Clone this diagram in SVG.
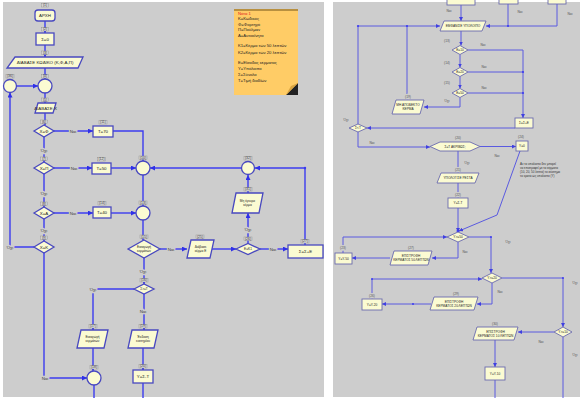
<svg xmlns="http://www.w3.org/2000/svg" width="582" height="398" viewBox="0 0 582 398">
<defs>
<style>
.ln{fill:none;stroke:#3c3cf0;stroke-width:1.4}
.ln2{fill:none;stroke:#5a5ae0;stroke-width:1}
.nd{fill:#fbfbd2;stroke:#4848c0;stroke-width:1.3}
.nd2{fill:#fbfbd2;stroke:#6a6ab0;stroke-width:0.9}
.t{font-family:"Liberation Sans",Arial,sans-serif;font-size:4.4px;fill:#222;text-anchor:middle}
.t2{font-family:"Liberation Sans",Arial,sans-serif;font-size:3.2px;fill:#222;text-anchor:middle}
.lb{font-family:"Liberation Sans",Arial,sans-serif;font-size:4.4px;fill:#444;text-anchor:middle;stroke:#cdcdcd;stroke-width:2.5;paint-order:stroke}
.lb2{font-family:"Liberation Sans",Arial,sans-serif;font-size:3.3px;fill:#555;text-anchor:middle;stroke:#cdcdcd;stroke-width:2;paint-order:stroke}
.tg{font-family:"Liberation Sans",Arial,sans-serif;font-size:3.4px;fill:#333;text-anchor:middle}
.tgb{fill:#d9d9d9;stroke:#8a8a8a;stroke-width:0.4}
.nt{font-family:"Liberation Sans",Arial,sans-serif;font-size:4.2px;fill:#222}
.nt2{font-family:"Liberation Sans",Arial,sans-serif;font-size:3px;fill:#333}
.dot{fill:#3c3cf0}
</style>
<marker id="ah" viewBox="0 0 10 10" refX="10" refY="5" markerWidth="5" markerHeight="5" orient="auto" markerUnits="userSpaceOnUse"><path d="M0,0 L10,5 L0,10 z" fill="#3030e8"/></marker>
<marker id="ah2" viewBox="0 0 10 10" refX="10" refY="5" markerWidth="4" markerHeight="4" orient="auto" markerUnits="userSpaceOnUse"><path d="M0,0 L10,5 L0,10 z" fill="#4040e0"/></marker>
</defs>
<rect x="0" y="0" width="582" height="398" fill="#ffffff"/>
<rect x="3" y="2" width="321" height="395" fill="#cdcdcd"/>
<rect x="333" y="2" width="247" height="395" fill="#cdcdcd"/>

<!-- connectors -->
<g id="connectors">
<path class="ln" d="M45,21 V33" marker-end="url(#ah)"/>
<path class="ln" d="M45,45 V57" marker-end="url(#ah)"/>
<path class="ln" d="M45,68 V79" marker-end="url(#ah)"/>
<path class="ln" d="M16.5,86 H38" marker-end="url(#ah)"/>
<path class="ln" d="M45,93 V103" marker-end="url(#ah)"/>
<path class="ln" d="M45,113 V125" marker-end="url(#ah)"/>
<path class="ln" d="M44,137 V162" marker-end="url(#ah)"/>
<path class="ln" d="M54,131 H93" marker-end="url(#ah)"/>
<path class="ln" d="M113,131 H143 V161" marker-end="url(#ah)"/>
<path class="ln" d="M44,174 V207" marker-end="url(#ah)"/>
<path class="ln" d="M54,168 H92" marker-end="url(#ah)"/>
<path class="ln" d="M111,168 H136" marker-end="url(#ah)"/>
<path class="ln" d="M44,219 V241" marker-end="url(#ah)"/>
<path class="ln" d="M54,213 H93" marker-end="url(#ah)"/>
<path class="ln" d="M111,213 H136" marker-end="url(#ah)"/>
<path class="ln" d="M143,175 V206" marker-end="url(#ah)"/>
<path class="ln" d="M143,220 V240" marker-end="url(#ah)"/>
<path class="ln" d="M34,247 H10 V92.5" marker-end="url(#ah)"/>
<path class="ln" d="M44,253 V378 H87" marker-end="url(#ah)"/>
<path class="ln" d="M160,249 H187" marker-end="url(#ah)"/>
<path class="ln" d="M212,249 H236" marker-end="url(#ah)"/>
<path class="ln" d="M248,243.5 V213" marker-end="url(#ah)"/>
<path class="ln" d="M248,193 V175" marker-end="url(#ah)"/>
<path class="ln" d="M260,249 H288" marker-end="url(#ah)"/>
<path class="ln" d="M305,245 V168 H255" marker-end="url(#ah)"/>
<path class="ln" d="M241,168 H150" marker-end="url(#ah)"/>
<path class="ln" d="M144,258 V284" marker-end="url(#ah)"/>
<path class="ln" d="M134,289 H93 V330" marker-end="url(#ah)"/>
<path class="ln" d="M144,294 V330" marker-end="url(#ah)"/>
<path class="ln" d="M93,348 V371" marker-end="url(#ah)"/>
<path class="ln" d="M143,348 V370" marker-end="url(#ah)"/>
<path class="ln" d="M94,385 V398"/>
<path class="ln" d="M143,383 V398"/>
<circle class="dot" cx="305" cy="168" r="1.2"/>

<path class="ln2" d="M461,5 V21" marker-end="url(#ah2)"/>
<path class="ln2" d="M508,4 V26"/>
<path class="ln2" d="M557,4 V26 H486" marker-end="url(#ah2)"/>
<path class="ln2" d="M358,124 V26 H440" marker-end="url(#ah2)"/>
<path class="ln2" d="M407,100 V26"/>
<path class="ln2" d="M461,31 V45.5" marker-end="url(#ah2)"/>
<path class="ln2" d="M460,54.5 V67.5" marker-end="url(#ah2)"/>
<path class="ln2" d="M460,76.5 V88.5" marker-end="url(#ah2)"/>
<path class="ln2" d="M468,50 H523 V118" marker-end="url(#ah2)"/>
<path class="ln2" d="M468,72 H523"/>
<path class="ln2" d="M468,93 H523"/>
<path class="ln2" d="M460,97.5 V107 H424" marker-end="url(#ah2)"/>
<path class="ln2" d="M515,128 H367" marker-end="url(#ah2)"/>
<path class="ln2" d="M358,132 V147 H430" marker-end="url(#ah2)"/>
<path class="ln2" d="M480,146.5 H516" marker-end="url(#ah2)"/>
<path class="ln2" d="M520,151 L497,215 L459,231" marker-end="url(#ah2)"/>
<path class="ln2" d="M458,151 V173" marker-end="url(#ah2)"/>
<path class="ln2" d="M458,183 V198" marker-end="url(#ah2)"/>
<path class="ln2" d="M458,208 V232" marker-end="url(#ah2)"/>
<path class="ln2" d="M343,253 V237 H447" marker-end="url(#ah2)"/>
<path class="ln2" d="M469,237 H491 V273" marker-end="url(#ah2)"/>
<path class="ln2" d="M458,242 V258 H432" marker-end="url(#ah2)"/>
<path class="ln2" d="M390,258 H352" marker-end="url(#ah2)"/>
<path class="ln2" d="M372,299 V279 H482" marker-end="url(#ah2)"/>
<path class="ln2" d="M502,278 H563 V327" marker-end="url(#ah2)"/>
<path class="ln2" d="M492,283 V304 H477" marker-end="url(#ah2)"/>
<path class="ln2" d="M431,304 H382" marker-end="url(#ah2)"/>
<path class="ln2" d="M554,332 H518" marker-end="url(#ah2)"/>
<path class="ln2" d="M495,340 V367" marker-end="url(#ah2)"/>
<path class="ln2" d="M495,380 V398"/>
<path class="ln2" d="M563,337 V398"/>
<circle class="dot" cx="407" cy="26" r="1.1"/>
<circle class="dot" cx="508" cy="26" r="1.1"/>
<circle class="dot" cx="358" cy="26" r="1.1"/>
<circle class="dot" cx="523" cy="72" r="1.1"/>
<circle class="dot" cx="523" cy="93" r="1.1"/>
<circle class="dot" cx="458" cy="231" r="1.5"/>
<circle class="dot" cx="413" cy="304" r="1"/>
<circle class="dot" cx="372" cy="279" r="1"/>
<circle class="dot" cx="563" cy="278" r="1"/>
<circle class="dot" cx="491" cy="237" r="1"/>
</g>

<!-- connector labels -->
<g id="labels">
<text class="lb" x="44" y="152">Όχι</text>
<text class="lb" x="73" y="132.5">Ναι</text>
<text class="lb" x="44" y="195">Όχι</text>
<text class="lb" x="74" y="169.5">Ναι</text>
<text class="lb" x="44" y="232">Όχι</text>
<text class="lb" x="73" y="214.5">Ναι</text>
<text class="lb" x="10" y="248.5">Όχι</text>
<text class="lb" x="45" y="379.5">Ναι</text>
<text class="lb" x="171" y="250.5">Ναι</text>
<text class="lb" x="248" y="231">Όχι</text>
<text class="lb" x="273" y="250.5">Ναι</text>
<text class="lb" x="143" y="273">Όχι</text>
<text class="lb" x="93" y="290.5">Όχι</text>
<text class="lb" x="143" y="313">Ναι</text>

<text class="lb2" x="449" y="12">Ναι</text>
<text class="lb2" x="520" y="13">Ναι</text>
<text class="lb2" x="570" y="15">Ναι</text>
<text class="lb2" x="483" y="46">Ναι</text>
<text class="lb2" x="484" y="68">Ναι</text>
<text class="lb2" x="484" y="89">Ναι</text>
<text class="lb2" x="447" y="102">Όχι</text>
<text class="lb2" x="346" y="121">Όχι</text>
<text class="lb2" x="372" y="144">Ναι</text>
<text class="lb2" x="497" y="157">Ναι</text>
<text class="lb2" x="467" y="164">Όχι</text>
<text class="lb2" x="508" y="243">Όχι</text>
<text class="lb2" x="465" y="253">Ναι</text>
<text class="lb2" x="500" y="293">Ναι</text>
<text class="lb2" x="575" y="284">Όχι</text>
<text class="lb2" x="541" y="343">Ναι</text>
<text class="lb2" x="575" y="356">Όχι</text>
</g>

<!-- left panel nodes -->
<g id="n1"><rect class="tgb" x="41.5" y="3.5" width="7" height="3.5"/><text class="tg" x="45" y="6.3">(1)</text><rect class="nd" x="35" y="10" width="20" height="11" rx="3"/><text class="t" x="45" y="17.2">ΑΡΧΗ</text></g>
<g id="n2"><rect class="tgb" x="41.5" y="27.5" width="7" height="3.5"/><text class="tg" x="45" y="30.3">(2)</text><rect class="nd" x="36" y="33" width="18" height="12"/><text class="t" x="45" y="40.5">Σ=0</text></g>
<g id="n3"><rect class="tgb" x="41.5" y="51" width="7" height="3.5"/><text class="tg" x="45" y="53.8">(3)</text><polygon class="nd" points="15,57 83,57 78,68 7,68"/><text class="t" x="45" y="64.2">ΔΙΑΒΑΣΕ ΚΩΔΙΚΟ (Κ,Φ,Α,Π)</text></g>
<g id="n36"><rect class="tgb" x="6" y="74.5" width="8" height="3.5"/><text class="tg" x="10" y="77.3">(36)</text><circle class="nd" cx="10" cy="86" r="6.5"/></g>
<g id="n4"><rect class="tgb" x="41.5" y="74.5" width="7" height="3.5"/><text class="tg" x="45" y="77.3">(4)</text><circle class="nd" cx="45" cy="86" r="7"/></g>
<g id="n5"><rect class="tgb" x="41.5" y="98" width="7" height="3.5"/><text class="tg" x="45" y="100.8">(5)</text><polygon class="nd" points="38,103 56,103 53,113 35,113"/><text class="t" x="45.5" y="109.6">ΔΙΑΒΑΣΕ Χ</text></g>
<g id="n6"><rect class="tgb" x="40.5" y="120" width="7" height="3.5"/><text class="tg" x="44" y="122.8">(6)</text><polygon class="nd" points="34,131 44,125 54,131 44,137"/><text class="t" x="44" y="132.6">Χ=Φ</text></g>
<g id="n11"><rect class="tgb" x="99" y="120.5" width="8" height="3.5"/><text class="tg" x="103" y="123.3">(11)</text><rect class="nd" x="93" y="126" width="20" height="11"/><text class="t" x="103" y="133">Τ=70</text></g>
<g id="n7"><rect class="tgb" x="40.5" y="157" width="7" height="3.5"/><text class="tg" x="44" y="159.8">(7)</text><polygon class="nd" points="34,168 44,162 54,168 44,174"/><text class="t" x="44" y="169.6">Χ=Π</text></g>
<g id="n12"><rect class="tgb" x="97.5" y="157.5" width="8" height="3.5"/><text class="tg" x="101.5" y="160.3">(12)</text><rect class="nd" x="92" y="163" width="19" height="11"/><text class="t" x="101.5" y="170">Τ=50</text></g>
<g id="n10"><rect class="tgb" x="139" y="156" width="8" height="3.5"/><text class="tg" x="143" y="158.8">(10)</text><circle class="nd" cx="143" cy="168" r="7"/></g>
<g id="n8"><rect class="tgb" x="40.5" y="202" width="7" height="3.5"/><text class="tg" x="44" y="204.8">(8)</text><polygon class="nd" points="34,213 44,207 54,213 44,219"/><text class="t" x="44" y="214.6">Χ=Α</text></g>
<g id="n14"><rect class="tgb" x="98" y="201.5" width="8" height="3.5"/><text class="tg" x="102" y="204.3">(14)</text><rect class="nd" x="93" y="207" width="18" height="11"/><text class="t" x="102" y="214">Τ=40</text></g>
<g id="n13"><rect class="tgb" x="139" y="201" width="8" height="3.5"/><text class="tg" x="143" y="203.8">(13)</text><circle class="nd" cx="143" cy="213" r="7"/></g>
<g id="n9"><rect class="tgb" x="40.5" y="236" width="7" height="3.5"/><text class="tg" x="44" y="238.8">(9)</text><polygon class="nd" points="34,247 44,241 54,247 44,253"/><text class="t" x="44" y="248.6">Χ=Κ</text></g>
<g id="n15"><rect class="tgb" x="140" y="235" width="8" height="3.5"/><text class="tg" x="144" y="237.8">(15)</text><polygon class="nd" points="128,249 144,240 160,249 144,258"/><text class="t2" x="144" y="248">Εισαγωγή</text><text class="t2" x="144" y="252">κερμάτων</text></g>
<g id="n25"><rect class="tgb" x="196" y="235" width="8" height="3.5"/><text class="tg" x="200" y="237.8">(25)</text><polygon class="nd" points="191,240 214,240 210,258 187,258"/><text class="t2" x="200.5" y="248">Διάβασε</text><text class="t2" x="200.5" y="252">κέρμα Ε</text></g>
<g id="n26"><rect class="tgb" x="244" y="237" width="8" height="3.5"/><text class="tg" x="248" y="239.8">(26)</text><polygon class="nd" points="236,249 248,243.5 260,249 248,254.5"/><text class="t2" x="248" y="250.2">Ε=Κ1</text></g>
<g id="n31"><rect class="tgb" x="244" y="187.5" width="8" height="3.5"/><text class="tg" x="248" y="190.3">(31)</text><polygon class="nd" points="236,193 263,193 259,213 232,213"/><text class="t2" x="247.5" y="202">Μη έγκυρο</text><text class="t2" x="247.5" y="206">κέρμα</text></g>
<g id="n32"><rect class="tgb" x="244" y="156.5" width="8" height="3.5"/><text class="tg" x="248" y="159.3">(32)</text><circle class="nd" cx="248" cy="168" r="6.5"/></g>
<g id="n27"><rect class="tgb" x="301" y="239.5" width="8" height="3.5"/><text class="tg" x="305" y="242.3">(27)</text><rect class="nd" x="288" y="245" width="35" height="13"/><text class="t" x="305.5" y="253">Σ=Σ+Ε</text></g>
<g id="n16"><rect class="tgb" x="140" y="278.5" width="8" height="3.5"/><text class="tg" x="144" y="281.3">(16)</text><polygon class="nd" points="134,289 144,284 154,289 144,294"/><text class="t2" x="144" y="290.2">Σ&gt;=Τ</text></g>
<g id="n17"><rect class="tgb" x="89" y="324.5" width="8" height="3.5"/><text class="tg" x="93" y="327.3">(17)</text><polygon class="nd" points="81,330 108,330 104,348 77,348"/><text class="t2" x="92.5" y="338">Εισαγωγή</text><text class="t2" x="92.5" y="342">κερμάτων</text></g>
<g id="n19"><rect class="tgb" x="139" y="324.5" width="8" height="3.5"/><text class="tg" x="143" y="327.3">(19)</text><polygon class="nd" points="132,330 158,330 154,348 128,348"/><text class="t2" x="143" y="338">Έκδοση</text><text class="t2" x="143" y="342">εισιτηρίου</text></g>
<g id="n18"><rect class="tgb" x="90" y="365.5" width="8" height="3.5"/><text class="tg" x="94" y="368.3">(18)</text><circle class="nd" cx="94" cy="378" r="7"/></g>
<g id="n20"><rect class="tgb" x="139" y="364.5" width="8" height="3.5"/><text class="tg" x="143" y="367.3">(20)</text><rect class="nd" x="133" y="370" width="20" height="13"/><text class="t" x="143" y="378">Υ=Σ-Τ</text></g>

<!-- note -->
<g id="note">
<rect x="234" y="9" width="64" height="86" fill="#ffcc66"/>
<rect x="234" y="9" width="64" height="2" fill="#b89040"/>
<polygon points="286,95 298,83 298,95" fill="#222"/>
<polygon points="286,95 298,83 291,86" fill="#d9a440"/>
<text class="nt" x="238" y="15" fill="#e02020" style="fill:#e02020">Νότα 1</text>
<text class="nt" x="238" y="20">Κ=Κωδικός</text>
<text class="nt" x="238" y="25.5">Φ=Φορτηγό</text>
<text class="nt" x="238" y="31">Π=Πούλμαν</text>
<text class="nt" x="238" y="36.5">Α=Αυτοκίνητο</text>
<text class="nt" x="238" y="47">Κ1=Κέρμα των 50 λεπτών</text>
<text class="nt" x="238" y="53.5">Κ2=Κέρμα των 20 λεπτών</text>
<text class="nt" x="238" y="64">Ε=Είσοδος κέρματος</text>
<text class="nt" x="238" y="70">Υ=Υπόλοιπο</text>
<text class="nt" x="238" y="75.5">Σ=Σύνολο</text>
<text class="nt" x="238" y="81.5">Τ=Τιμή διοδίων</text>
</g>

<!-- right panel nodes -->
<g id="r1"><rect class="nd2" x="447" y="-2" width="28" height="7"/></g>
<g id="r2"><rect class="nd2" x="499" y="-2" width="19" height="6"/></g>
<g id="r3"><rect class="nd2" x="548" y="-2" width="18" height="6"/></g>
<g id="p12"><polygon class="nd2" points="444,21 486,21 482,31 440,31"/><text class="t2" x="463" y="27.2">ΕΜΦΑΝΙΣΕ ΥΠΟΛΟΙΠΟ</text></g>
<g id="d13"><text class="lb2" x="447" y="42">(13)</text><polygon class="nd2" points="452,50 460,45.5 468,50 460,54.5"/><text class="t2" x="460" y="51.1">Ε=10</text></g>
<g id="d14"><text class="lb2" x="447" y="64">(14)</text><polygon class="nd2" points="452,72 460,67.5 468,72 460,76.5"/><text class="t2" x="460" y="73.1">Ε=20</text></g>
<g id="d15"><text class="lb2" x="447" y="84">(15)</text><polygon class="nd2" points="452,93 460,88.5 468,93 460,97.5"/><text class="t2" x="460" y="94.1">Ε=50</text></g>
<g id="r16"><rect class="nd2" x="515" y="118" width="18" height="10"/><text class="t2" x="524" y="124.2">Σ=Σ+Ε</text></g>
<g id="p19"><text class="lb2" x="408" y="98">(19)</text><polygon class="nd2" points="396,100 424,100 420,114 392,114"/><text class="t2" x="408" y="106">ΜΗ ΑΠΟΔΕΚΤΟ</text><text class="t2" x="408" y="110">ΚΕΡΜΑ</text></g>
<g id="d17"><polygon class="nd2" points="349,128 358,124 367,128 358,132"/><text class="t2" x="358" y="129.1">Σ&lt;Τ</text></g>
<g id="d20"><text class="lb2" x="458" y="139">(20)</text><polygon class="nd2" points="430,146.5 440,142 470,142 480,146.5 470,151 440,151"/><text class="t2" x="455" y="147.6">Σ=Τ ΑΚΡΙΒΩΣ;</text></g>
<g id="r24"><text class="lb2" x="521" y="138">(24)</text><rect class="nd2" x="516" y="141" width="12" height="10"/><text class="t2" x="522" y="147.2">Υ=0</text></g>
<g id="note2">
<text class="nt2" x="520" y="165">Αν το υπόλοιπο δεν μπορεί</text>
<text class="nt2" x="520" y="169">να επιστραφεί με τα κέρματα</text>
<text class="nt2" x="520" y="173">(10, 20, 50 λεπτά) το σύστημα</text>
<text class="nt2" x="520" y="177">το κρατά ως υπόλοιπο (Υ)</text>
</g>
<g id="p21"><text class="lb2" x="458" y="171">(21)</text><polygon class="nd2" points="441,173 479,173 475,183 437,183"/><text class="t2" x="458" y="179.2">ΥΠΟΛΟΓΙΣΕ ΡΕΣΤΑ</text></g>
<g id="r22"><text class="lb2" x="458" y="196">(22)</text><rect class="nd2" x="448" y="198" width="20" height="10"/><text class="t2" x="458" y="204.2">Υ=Σ-Τ</text></g>
<g id="d25"><polygon class="nd2" points="447,237 458,232 469,237 458,242"/><text class="t2" x="458" y="238.1">Υ&gt;=50</text></g>
<g id="p27"><text class="lb2" x="411" y="249">(27)</text><polygon class="nd2" points="394,251 432,251 428,265 390,265"/><text class="t2" x="411" y="257">ΕΠΙΣΤΡΟΦΗ</text><text class="t2" x="411" y="261">ΚΕΡΜΑΤΟΣ 50 ΛΕΠΤΩΝ</text></g>
<g id="r23"><text class="lb2" x="343" y="249">(23)</text><rect class="nd2" x="335" y="253" width="17" height="11"/><text class="t2" x="343.5" y="259.7">Υ=Υ-50</text></g>
<g id="d28"><polygon class="nd2" points="482,278 492,273 502,278 492,283"/><text class="t2" x="492" y="279.1">Υ&gt;=20</text></g>
<g id="p29"><text class="lb2" x="456" y="295">(29)</text><polygon class="nd2" points="434,297 478,297 474,310 430,310"/><text class="t2" x="454" y="302.6">ΕΠΙΣΤΡΟΦΗ</text><text class="t2" x="454" y="306.6">ΚΕΡΜΑΤΟΣ 20 ΛΕΠΤΩΝ</text></g>
<g id="r26"><text class="lb2" x="372" y="297">(26)</text><rect class="nd2" x="362" y="299" width="20" height="11"/><text class="t2" x="372" y="305.7">Υ=Υ-20</text></g>
<g id="d31"><polygon class="nd2" points="554,332 563,327 572,332 563,337"/><text class="t2" x="563" y="333.1">Υ&gt;=10</text></g>
<g id="p30"><text class="lb2" x="495" y="325">(30)</text><polygon class="nd2" points="477,327 518,327 514,340 473,340"/><text class="t2" x="495.5" y="332.6">ΕΠΙΣΤΡΟΦΗ</text><text class="t2" x="495.5" y="336.6">ΚΕΡΜΑΤΟΣ 10 ΛΕΠΤΩΝ</text></g>
<g id="r33"><rect class="nd2" x="485" y="367" width="20" height="13"/><text class="t2" x="495" y="374.7">Υ=Υ-10</text></g>
</svg>
